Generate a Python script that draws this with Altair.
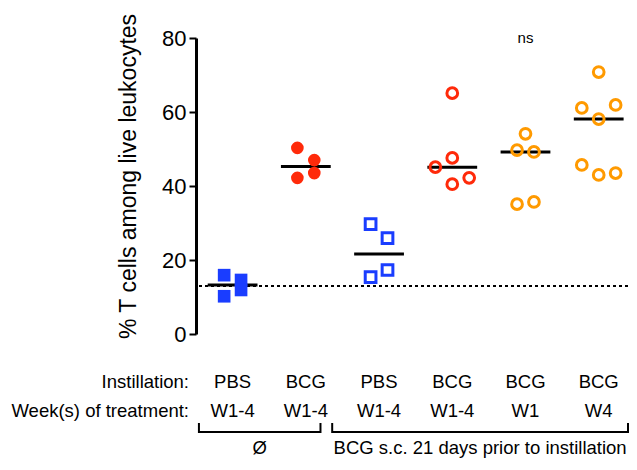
import altair as alt
import pandas as pd

FONT = "Liberation Sans"

# ---- data ----
group_idx = [1, 2, 3, 4, 5, 6]
instillation = ["PBS", "BCG", "PBS", "BCG", "BCG", "BCG"]
weeks = ["W1-4", "W1-4", "W1-4", "W1-4", "W1", "W4"]

g1_vals = [15.9, 10.2, 14.6, 11.9]
g1_slot = [-0.5, -0.5, 0.5, 0.5]
g2_vals = [50.3, 42.2, 47.0, 43.5]
g2_slot = [-0.5, -0.5, 0.5, 0.5]
g3_vals = [29.7, 15.4, 25.9, 17.3]
g3_slot = [-0.5, -0.5, 0.5, 0.5]
g4_vals = [65.1, 45.1, 47.6, 42.2, 40.5]
g4_slot = [0, -1, 0, 1, 0]
g5_vals = [54.1, 49.7, 49.2, 35.1, 35.7]
g5_slot = [0, -0.5, 0.5, -0.5, 0.5]
g6_vals = [70.8, 61.1, 61.9, 58.1, 45.7, 43.0, 43.5]
g6_slot = [0, -1, 1, 0, -1, 0, 1]

baseline = [13.0]

bracket_labels = ["Ø", "BCG s.c. 21 days prior to instillation"]
bracket_lo = [0.54, 2.36]
bracket_hi = [2.2, 6.4]

ns_label = ["ns"]
ns_group = [5]
ns_y = [80]

row_headers = ["Instillation:", "Week(s) of treatment:"]

# ---- tables ----
all_vals = [g1_vals, g2_vals, g3_vals, g4_vals, g5_vals, g6_vals]
all_slots = [g1_slot, g2_slot, g3_slot, g4_slot, g5_slot, g6_slot]
rows = []
for gi, vals, slots in zip(group_idx, all_vals, all_slots):
    for v, s in zip(vals, slots):
        rows.append({"g": gi, "g_name": f"G{gi}", "value": v, "slot": s})
pts = pd.DataFrame(rows)
pts_filled = pts[pts["g"] <= 2]
pts_open = pts[pts["g"] >= 3]

labels_df = pd.DataFrame({"g": group_idx, "inst": instillation, "week": weeks})
br_df = pd.DataFrame({"label": bracket_labels, "lo": bracket_lo, "hi": bracket_hi})
base_df = pd.DataFrame({"v": baseline})
ns_df = pd.DataFrame({"t": ns_label, "g": ns_group, "y": ns_y})
hdr_df = pd.DataFrame({"t": row_headers, "row": [0, 1]})

XS = alt.Scale(domain=[0.5, 6.4], nice=False, zero=False)
YS = alt.Scale(domain=[0, 80], nice=False)

yaxis = alt.Axis(
    values=[0, 20, 40, 60, 80], grid=False, domainColor="black", domainWidth=3,
    tickColor="black", tickWidth=2, tickSize=7, labelFontSize=22, labelColor="black",
    labelFont=FONT, labelPadding=3, title="% T cells among live leukocytes",
    titleFontSize=23, titleFont=FONT, titleFontWeight="normal", titleColor="black",
    titlePadding=21, titleY=138,
)

color_scale = alt.Scale(
    domain=["G1", "G2", "G3", "G4", "G5", "G6"],
    range=["#1a3dff", "#ff2a0a", "#1a3dff", "#ff2a0a", "#ff9a00", "#ff9a00"],
)
shape_scale = alt.Scale(
    domain=["G1", "G2", "G3", "G4", "G5", "G6"],
    range=["square", "circle", "square", "circle", "circle", "circle"],
)

filled = alt.Chart(pts_filled).transform_calculate(
    px="datum.g + datum.slot * 0.231"
).mark_point(filled=True, size=160, opacity=1).encode(
    x=alt.X("px:Q", scale=XS, axis=None),
    y=alt.Y("value:Q", scale=YS, axis=yaxis),
    color=alt.Color("g_name:N", scale=color_scale, legend=None),
    shape=alt.Shape("g_name:N", scale=shape_scale, legend=None),
)

opened = alt.Chart(pts_open).transform_calculate(
    px="datum.g + datum.slot * 0.231"
).mark_point(filled=False, size=115, strokeWidth=3, opacity=1).encode(
    x=alt.X("px:Q", scale=XS, axis=None),
    y=alt.Y("value:Q", scale=YS),
    color=alt.Color("g_name:N", scale=color_scale, legend=None),
    shape=alt.Shape("g_name:N", scale=shape_scale, legend=None),
)

medians = alt.Chart(pts).transform_aggregate(
    med="median(value)", groupby=["g"]
).transform_calculate(
    x1="datum.g - 0.34", x2="datum.g + 0.34"
).mark_rule(color="black", strokeWidth=3).encode(
    x=alt.X("x1:Q", scale=XS, axis=None),
    x2="x2:Q",
    y=alt.Y("med:Q", scale=YS),
)

dashed = alt.Chart(base_df).mark_rule(
    color="black", strokeWidth=2, strokeDash=[3, 3]
).encode(y=alt.Y("v:Q", scale=YS))

ns = alt.Chart(ns_df).mark_text(font=FONT, fontSize=15, color="black").encode(
    x=alt.X("g:Q", scale=XS, axis=None),
    y=alt.Y("y:Q", scale=YS),
    text="t:N",
)

txt_kw = dict(font=FONT, fontSize=18.5, color="black", baseline="middle")
row1 = alt.Chart(labels_df).mark_text(**txt_kw).encode(
    x=alt.X("g:Q", scale=XS, axis=None), y=alt.value(344), text="inst:N"
)
row2 = alt.Chart(labels_df).mark_text(**txt_kw).encode(
    x=alt.X("g:Q", scale=XS, axis=None), y=alt.value(373), text="week:N"
)
hdr = alt.Chart(hdr_df).transform_calculate(
    ypix="344 + datum.row * 29"
).mark_text(align="right", **txt_kw).encode(
    x=alt.value(-7), y=alt.Y("ypix:Q", scale=None), text="t:N"
)

br_h = alt.Chart(br_df).mark_rule(color="black", strokeWidth=2).encode(
    x=alt.X("lo:Q", scale=XS, axis=None), x2="hi:Q", y=alt.value(394)
)
br_v = alt.Chart(br_df).transform_fold(["lo", "hi"], as_=["end", "xe"]).mark_rule(
    color="black", strokeWidth=2
).encode(
    x=alt.X("xe:Q", scale=XS, axis=None), y=alt.value(385), y2=alt.value(395)
)
br_t = alt.Chart(br_df).transform_calculate(
    xm="(datum.lo + datum.hi) / 2"
).mark_text(**txt_kw).encode(
    x=alt.X("xm:Q", scale=XS, axis=None), y=alt.value(410), text="label:N"
)

chart = alt.layer(
    dashed, medians, filled, opened, ns, row1, row2, hdr, br_h, br_v, br_t
).properties(
    width=432, height=296,
    padding={"left": 3, "top": 5, "right": 0, "bottom": 0},
).configure_view(stroke=None)

chart.save("out.html", embed_options={"renderer": "svg", "actions": False})
